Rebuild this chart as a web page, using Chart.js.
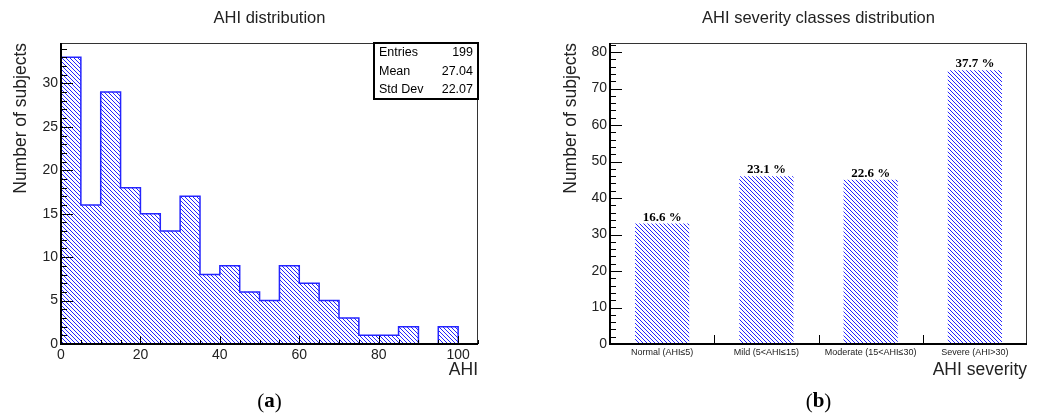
<!DOCTYPE html>
<html>
<head>
<meta charset="utf-8">
<script src="https://cdn.jsdelivr.net/npm/chart.js@4.4.1/dist/chart.umd.min.js"></script>
<style>
    html, body { margin: 0; padding: 0; background: #fff; }
    #wrap { position: relative; width: 1043px; height: 419px; }
    canvas { position: absolute; top: 0; }
    #ahiHist { left: 0; }
    #ahiClass { left: 520px; }
</style>
</head>
<body>
<div id="wrap">
    <canvas id="ahiHist" width="520" height="419"></canvas>
    <canvas id="ahiClass" width="523" height="419"></canvas>
</div>
<script>
// (a) AHI histogram, 5-unit bins
const ahiBinLow = [0, 5, 10, 15, 20, 25, 30, 35, 40, 45, 50, 55, 60, 65, 70, 75, 80, 85, 90, 95, 100];
const ahiCounts = [33, 16, 29, 18, 15, 13, 17, 8, 9, 6, 5, 9, 7, 5, 3, 1, 1, 2, 0, 2, 0];
const ahiBinWidth = 5;
const statLabels = ['Entries', 'Mean', 'Std Dev'];
const statValues = [String(ahiCounts.reduce((s, v) => s + v, 0)), '27.04', '22.07'];

// (b) AHI severity classes
const classLabels = ['Normal (AHI\u22645)', 'Mild (5<AHI\u226415)', 'Moderate (15<AHI\u226430)', 'Severe (AHI>30)'];
const classCounts = [33, 46, 45, 75];

const SANS = '"Liberation Sans", Arial, sans-serif';
const SERIF = '"Liberation Serif", "Times New Roman", serif';
const TEXT = '#222';
const BLUE = '#2424ff';

// diagonal hatch like ROOT fill style 3004
function hatch() {
    const c = document.createElement('canvas');
    c.width = 4; c.height = 4;
    const g = c.getContext('2d');
    g.fillStyle = BLUE;
    for (let i = 0; i < 4; i++) g.fillRect(i, i, 1, 1);
    return g.createPattern(c, 'repeat');
}

// frame, inward ticks, title and panel letter
const rootFrame = {
    id: 'rootFrame',
    afterDraw(chart, args, opts) {
        const { ctx, chartArea: a, scales: { x, y } } = chart;
        ctx.save();
        ctx.fillStyle = TEXT;
        ctx.font = '16.5px ' + SANS;
        ctx.textAlign = 'center';
        ctx.textBaseline = 'middle';
        ctx.fillText(opts.title, (a.left + a.right) / 2, 18);

        ctx.strokeStyle = '#333';
        ctx.lineWidth = 1;
        ctx.strokeRect(a.left + 0.5, a.top + 0.5, a.right - a.left - 1, a.bottom - a.top - 1);
        ctx.strokeStyle = '#000';
        ctx.lineWidth = 2;
        ctx.beginPath();
        ctx.moveTo(a.left, a.top);
        ctx.lineTo(a.left, a.bottom);
        ctx.lineTo(a.right, a.bottom);
        ctx.stroke();

        ctx.lineWidth = 1;
        const nMinor = Math.floor(y.max / opts.yMinor + 1e-9);
        for (let i = 0; i <= nMinor; i++) {
            const v = i * opts.yMinor;
            const py = Math.round(y.getPixelForValue(v)) + 0.5;
            const major = i % opts.yPer === 0;
            ctx.beginPath();
            ctx.moveTo(a.left, py);
            ctx.lineTo(a.left + (major ? 12 : 6), py);
            ctx.stroke();
        }
        if (opts.xMinor) {
            const n = Math.floor(x.max / opts.xMinor + 1e-9);
            for (let i = 0; i <= n; i++) {
                const px = Math.round(x.getPixelForValue(i * opts.xMinor)) + 0.5;
                const major = i % opts.xPer === 0;
                ctx.beginPath();
                ctx.moveTo(px, a.bottom);
                ctx.lineTo(px, a.bottom - (major ? 8 : 4));
                ctx.stroke();
            }
        }
        if (opts.xBoundaries) {
            for (let i = 1; i < chart.data.labels.length; i++) {
                const px = Math.round(x.getPixelForValue(i - 0.5)) + 0.5;
                ctx.beginPath();
                ctx.moveTo(px, a.bottom);
                ctx.lineTo(px, a.bottom - 9);
                ctx.stroke();
            }
        }

        // panel letter: "(" regular, letter bold, ")" regular
        const parts = [['(', '21px ' + SERIF], [opts.panel, 'bold 21px ' + SERIF], [')', '21px ' + SERIF]];
        let w = 0;
        parts.forEach(p => { ctx.font = p[1]; w += ctx.measureText(p[0]).width; });
        let cx = (a.left + a.right) / 2 - w / 2;
        ctx.textAlign = 'left';
        ctx.fillStyle = '#000';
        parts.forEach(p => { ctx.font = p[1]; ctx.fillText(p[0], cx, 402); cx += ctx.measureText(p[0]).width; });
        ctx.restore();
    }
};

// statistics box of the histogram
const statBox = {
    id: 'statBox',
    afterDraw(chart) {
        const { ctx, chartArea: a } = chart;
        const w = 104, h = 56;
        ctx.save();
        ctx.fillStyle = '#fff';
        ctx.fillRect(a.right - w, a.top, w, h);
        ctx.strokeStyle = '#000';
        ctx.lineWidth = 2;
        ctx.strokeRect(a.right - w, a.top, w, h);
        ctx.fillStyle = '#000';
        ctx.font = '12.5px ' + SANS;
        ctx.textBaseline = 'middle';
        statLabels.forEach((lab, i) => {
            const py = a.top + 10 + i * 18.5;
            ctx.textAlign = 'left';
            ctx.fillText(lab, a.right - w + 5, py);
            ctx.textAlign = 'right';
            ctx.fillText(statValues[i], a.right - 5, py);
        });
        ctx.restore();
    }
};

// percentage above each class bar
const percentLabels = {
    id: 'percentLabels',
    afterDatasetsDraw(chart) {
        const { ctx } = chart;
        const vals = chart.data.datasets[0].data;
        const total = vals.reduce((s, v) => s + v, 0);
        ctx.save();
        ctx.fillStyle = '#000';
        ctx.font = 'bold 13px ' + SERIF;
        ctx.textAlign = 'center';
        ctx.textBaseline = 'alphabetic';
        chart.getDatasetMeta(0).data.forEach((bar, i) => {
            ctx.fillText((vals[i] / total * 100).toFixed(1) + ' %', bar.x, bar.y - 3);
        });
        ctx.restore();
    }
};

function yAxis(max, step, width, titlePad) {
    return {
        min: 0, max: max,
        grid: { display: false, drawTicks: false },
        border: { display: false },
        ticks: { stepSize: step, includeBounds: false, padding: 3, color: TEXT, font: { family: SANS, size: 14 } },
        title: { display: true, text: 'Number of subjects', align: 'end', color: TEXT,
                 padding: { top: titlePad, bottom: 0 }, font: { family: SANS, size: 17.5 } },
        afterFit(s) { s.width = width; }
    };
}

const histPoints = ahiBinLow.map((x, i) => ({ x: x, y: ahiCounts[i] }));
histPoints.push({ x: ahiBinLow[ahiBinLow.length - 1] + ahiBinWidth, y: ahiCounts[ahiCounts.length - 1] });

new Chart(document.getElementById('ahiHist'), {
    type: 'line',
    data: {
        datasets: [{
            data: histPoints,
            stepped: 'before',
            fill: 'origin',
            backgroundColor: hatch(),
            borderColor: BLUE,
            borderWidth: 1.5,
            pointRadius: 0
        }]
    },
    options: {
        responsive: false,
        animation: false,
        layout: { padding: { top: 43, right: 42, bottom: 38, left: 0 } },
        plugins: {
            legend: { display: false },
            tooltip: { enabled: false },
            rootFrame: { title: 'AHI distribution', panel: 'a', yMinor: 1, yPer: 5, xMinor: 5, xPer: 4 }
        },
        scales: {
            x: {
                type: 'linear', min: 0, max: 105,
                grid: { display: false, drawTicks: false },
                border: { display: false },
                ticks: { stepSize: 20, includeBounds: false, padding: 3, maxRotation: 0, color: TEXT, font: { family: SANS, size: 14 } },
                title: { display: true, text: 'AHI', align: 'end', color: TEXT, padding: { top: 0, bottom: 0 }, font: { family: SANS, size: 17.5 } },
                afterFit(s) { s.height = 37; }
            },
            y: yAxis(34.65, 5, 61, 11)
        }
    },
    plugins: [rootFrame, statBox]
});

new Chart(document.getElementById('ahiClass'), {
    type: 'bar',
    data: {
        labels: classLabels,
        datasets: [{
            data: classCounts,
            backgroundColor: hatch(),
            borderWidth: 0,
            barPercentage: 0.52,
            categoryPercentage: 1
        }]
    },
    options: {
        responsive: false,
        animation: false,
        layout: { padding: { top: 43, right: 16, bottom: 38, left: 0 } },
        plugins: {
            legend: { display: false },
            tooltip: { enabled: false },
            rootFrame: { title: 'AHI severity classes distribution', panel: 'b', yMinor: 2, yPer: 5, xBoundaries: true }
        },
        scales: {
            x: {
                grid: { display: false, drawTicks: false },
                border: { display: false },
                ticks: { padding: 3, autoSkip: false, maxRotation: 0, color: TEXT, font: { family: SANS, size: 9 } },
                title: { display: true, text: 'AHI severity', align: 'end', color: TEXT, padding: { top: 0, bottom: 0 }, font: { family: SANS, size: 17.5 } },
                afterFit(s) { s.height = 37; }
            },
            y: yAxis(82.5, 10, 90, 41)
        }
    },
    plugins: [rootFrame, percentLabels]
});
</script>
</body>
</html>
